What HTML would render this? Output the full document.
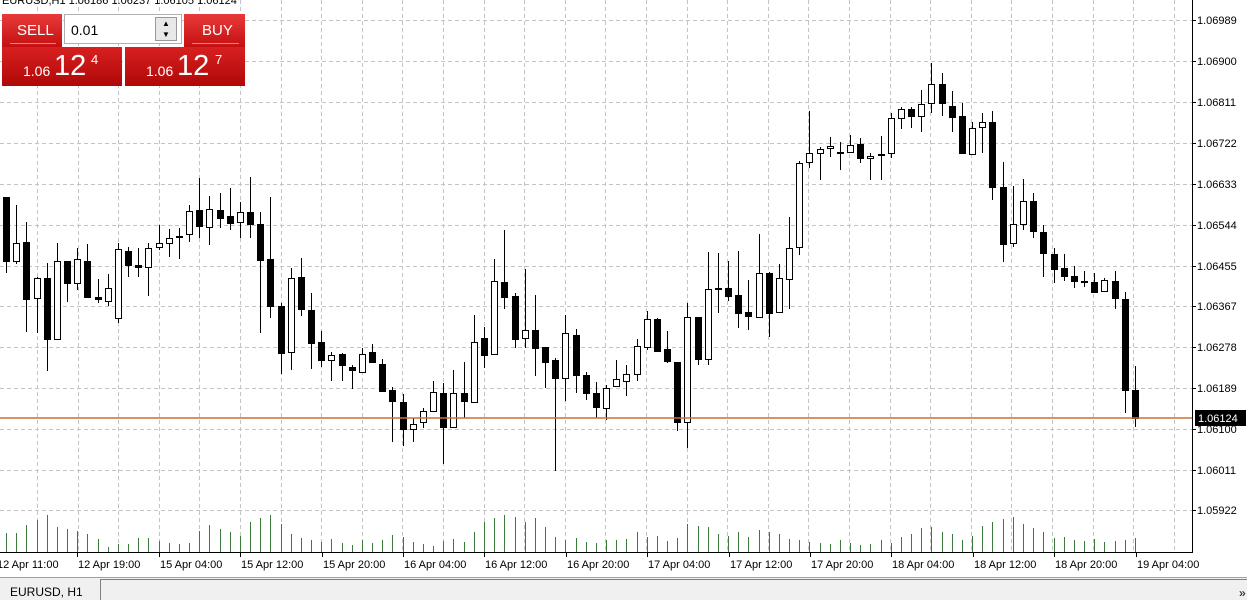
<!DOCTYPE html>
<html><head><meta charset="utf-8"><style>
html,body{margin:0;padding:0;background:#fff;width:1247px;height:600px;overflow:hidden;font-family:"Liberation Sans",sans-serif}
svg{position:absolute;left:0;top:0}
.panel{position:absolute;font-family:"Liberation Sans",sans-serif;color:#fff}
</style></head><body>
<svg id="s" width="1247" height="600" xmlns="http://www.w3.org/2000/svg"></svg>
<div class="panel" style="left:2px;top:14px;width:60px;height:33px;background:linear-gradient(#e83a3a,#c41010);"><div style="position:absolute;left:15px;top:8px;font-size:15px">SELL</div><div style="position:absolute;left:8px;right:6px;top:29px;height:1px;background:#f08080"></div></div>
<div class="panel" style="left:184px;top:14px;width:61px;height:33px;background:linear-gradient(#e83a3a,#c41010);"><div style="position:absolute;left:18px;top:8px;font-size:15px">BUY</div><div style="position:absolute;left:8px;right:6px;top:29px;height:1px;background:#f08080"></div></div>
<div class="panel" style="left:64px;top:14px;width:118px;height:30px;background:#fff;border:1px solid #b0b0b0;box-sizing:border-box;color:#000"><div style="position:absolute;left:6px;top:7px;font-size:14px">0.01</div><div style="position:absolute;left:90px;top:2px;width:22px;height:24px;background:#e8e8e8;border:1px solid #999;box-sizing:border-box;font-size:8px;text-align:center;line-height:11px">▲<br>▼</div></div>
<div class="panel" style="left:2px;top:47px;width:120px;height:39px;background:linear-gradient(#d82020,#b00808);"><span style="position:absolute;left:21px;top:16px;font-size:14px">1.06</span><span style="position:absolute;left:52px;top:3px;font-size:29px">12</span><span style="position:absolute;left:89px;top:5px;font-size:13px">4</span></div>
<div class="panel" style="left:125px;top:47px;width:120px;height:39px;background:linear-gradient(#d82020,#b00808);"><span style="position:absolute;left:21px;top:16px;font-size:14px">1.06</span><span style="position:absolute;left:52px;top:3px;font-size:29px">12</span><span style="position:absolute;left:90px;top:5px;font-size:13px">7</span></div>
<script>
var s=document.getElementById('s'),h='';
function L(x1,y1,x2,y2,c,w,d){h+='<line x1="'+x1+'" y1="'+y1+'" x2="'+x2+'" y2="'+y2+'" stroke="'+c+'" stroke-width="'+(w||1)+'"'+(d?' stroke-dasharray="'+d+'"':'')+'/>';}
function T(x,y,t,sz,a,c){h+='<text x="'+x+'" y="'+y+'" font-size="'+sz+'" font-family="Liberation Sans, sans-serif" fill="'+(c||'#000')+'"'+(a?' text-anchor="'+a+'"':'')+'>'+t+'</text>';}
var ys=[20,61,102,143,184,225,266,306,347,388,429,470,510];
var pl=['1.06989','1.06900','1.06811','1.06722','1.06633','1.06544','1.06455','1.06367','1.06278','1.06189','1.06100','1.06011','1.05922'];
ys.forEach(function(y){L(0,y+0.5,1192,y+0.5,'#c4c4c4',1,'4,3');});
for(var x=37;x<1192;x+=40.6){L(Math.round(x)+0.5,0,Math.round(x)+0.5,552,'#c4c4c4',1,'4,3');}
var vol=[19,19,27,32,37,25,23,21,18,13,5,8,8,14,14,11,9,8,9,21,27,23,20,16,
30,34,37,28,18,14,12,10,13,9,7,12,9,12,17,15,10,8,6,11,13,10,20,30,34,37,35,30,34,25,15,12,
14,10,9,12,12,13,20,15,16,11,14,28,26,25,18,16,20,15,22,20,18,13,12,10,9,8,12,9,7,8,12,9,
15,18,24,25,20,18,12,16,26,30,33,35,28,24,20,14,15,12,11,13,10,11,12,14,25,32,31,30];
var c=[[197,273,197,261,0],[205,264,243,261,1],[222,332,242,299,0],[277,333,278,298,1],[263,371,278,339,0],[243,340,261,339,1],[261,302,261,283,0],[248,290,259,283,1],[244,297,261,297,0],[279,303,297,299,0],[274,306,288,301,1],[243,323,249,318,1],[247,277,251,265,0],[248,277,265,267,0],[243,296,248,267,1],[225,250,243,247,1],[229,257,238,243,1],[228,259,236,237,0],[205,242,211,234,1],[178,238,210,226,0],[196,245,209,227,1],[193,228,210,218,0],[188,230,216,223,0],[202,238,212,222,1],[177,238,212,224,0],[212,333,224,260,0],[197,318,259,306,0],[303,374,306,353,0],
[268,370,278,352,1],[258,316,277,309,0],[293,369,310,343,0],[331,367,342,360,0],[352,381,355,360,1],[353,381,354,365,0],[365,389,367,370,0],[348,372,354,372,1],[344,363,352,362,0],[359,392,364,391,0],[387,442,390,401,0],[394,446,402,429,0],[418,442,424,429,1],[408,428,411,422,1],[381,412,392,411,1],[383,464,393,427,0],[370,428,393,427,1],[362,418,393,401,0],[315,402,342,402,1],[327,368,338,355,0],[259,355,281,354,1],[230,309,282,297,0],[293,348,296,339,0],[269,348,330,338,1],[295,376,330,348,0],[347,388,347,362,0],[358,471,360,378,0],[315,401,333,378,1],
[329,393,335,375,0],[372,400,375,393,0],[382,418,393,407,0],[385,420,388,408,1],[360,387,379,386,1],[365,396,374,381,1],[339,381,346,374,1],[311,350,319,347,1],[318,352,319,351,0],[331,363,349,361,0],[362,431,362,422,0],[303,448,317,422,1],[317,365,317,359,0],[252,365,289,359,1],[253,313,288,289,0],[261,301,288,296,0],[251,328,295,313,0],[280,330,312,316,0],[234,317,273,317,1],[272,337,273,313,0],[264,312,278,312,1],[217,309,248,279,1],[161,255,163,247,1],[111,168,153,162,1],[147,180,149,153,1],[137,157,146,148,1],[142,170,152,153,0],[135,153,145,152,1],
[138,163,144,158,0],[153,180,156,158,1],[136,180,154,155,0],[113,158,118,153,1],[107,129,109,118,1],[107,128,109,116,0],[90,132,104,116,1],[63,113,84,103,1],[73,116,84,103,0],[91,132,106,117,0],[103,153,116,153,0],[122,154,128,154,1],[113,153,122,127,1],[111,200,122,187,0],[162,262,187,244,0],[186,247,224,243,1],[179,230,201,224,1],[193,238,201,231,0],[225,277,232,253,0],[248,283,254,269,0],[254,281,268,276,0],[266,288,276,281,0],[271,287,281,282,0],[273,292,282,292,0],[278,291,280,291,1],[271,309,281,298,0],[292,413,299,390,0],[366,427,390,418,0]];
for(var i=0;i<c.length;i++){
 var x=Math.round(6+i*10.17), d=c[i];
 if(vol[i]) L(x+0.5,552,x+0.5,552-vol[i],'#3a7a3a',1);
 L(x+0.5,d[0],x+0.5,d[1],'#000',1);
 var t=d[2],b=Math.max(d[3],d[2]+1);
 if(d[4]) h+='<rect x="'+(x-2.5)+'" y="'+(t+0.5)+'" width="6" height="'+(b-t)+'" fill="#fff" stroke="#000" stroke-width="1"/>';
 else h+='<rect x="'+(x-3)+'" y="'+t+'" width="7" height="'+(b-t+1)+'" fill="#000"/>';
}
L(0,418,1192,418,'#c8703a',1.5);
L(1192.5,0,1192.5,553,'#000',1);L(0,552.5,1193,552.5,'#000',1);
ys.forEach(function(y,k){L(1192,y+0.5,1196,y+0.5,'#000');T(1197,y+4,pl[k],11);});
h+='<rect x="1195" y="410" width="51" height="16" fill="#000"/>';T(1198,422,'1.06124',11,'','#fff');
var tl=['12 Apr 11:00','12 Apr 19:00','15 Apr 04:00','15 Apr 12:00','15 Apr 20:00','16 Apr 04:00','16 Apr 12:00','16 Apr 20:00','17 Apr 04:00','17 Apr 12:00','17 Apr 20:00','18 Apr 04:00','18 Apr 12:00','18 Apr 20:00','19 Apr 04:00'];
for(var k=0;k<tl.length;k++){var tx=Math.round(-4+81.4*k);L(tx+0.5,552,tx+0.5,557,'#000');T(tx+1,568,tl[k],11);}
T(2,4,'EURUSD,H1  1.06186 1.06237 1.06105 1.06124',11);
h+='<rect x="0" y="577" width="1247" height="23" fill="#f0f0f0"/>';L(0,577.5,1247,577.5,'#a0a0a0');
h+='<rect x="100.5" y="579.5" width="1150" height="22" fill="#f0f0f0" stroke="#808080"/>';
T(10,596,'EURUSD, H1',12);T(1239,597,'»',12);
s.innerHTML=h;
</script>
</body></html>
